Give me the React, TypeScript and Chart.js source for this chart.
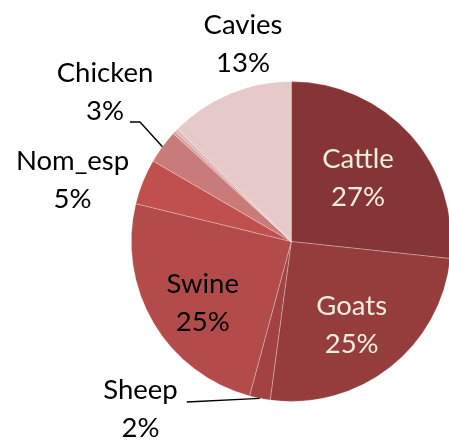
import React, { useEffect, useRef } from "react";
import { Chart, registerables } from "chart.js";

Chart.register(...registerables);

const categories = ["Cattle", "Goats", "Sheep", "Swine", "Nom_esp", "Chicken", "Other_a", "Other_b", "Cavies"];
const shares = [26.7, 25.4, 2.1, 24.6, 4.6, 3.4, 0.3, 0.3, 12.6];
const percentLabels = ["27%", "25%", "2%", "25%", "5%", "3%", "", "", "13%"];
const sliceColors = ["#853535", "#953d3d", "#a24242", "#b24b4a", "#c0504d", "#c97b7a", "#d9a09f", "#e0b4b4", "#e6c9c9"];

type LabelCfg =
  | { kind: "inside"; factor: number; turn: number; color: string }
  | { kind: "outside"; dx: number; dy: number; leader: number[][] }
  | { kind: "none" };

const labelLayout: LabelCfg[] = [
  { kind: "inside", factor: 0.58, turn: -2, color: "#f2eedf" },
  { kind: "inside", factor: 0.64, turn: 2, color: "#f2eedf" },
  { kind: "outside", dx: -150.75, dy: 166.5, leader: [[-104.5, 160.5]] },
  { kind: "inside", factor: 0.67, turn: -3.7, color: "#000000" },
  { kind: "outside", dx: -218.75, dy: -62.5, leader: [] },
  { kind: "outside", dx: -186.25, dy: -150.5, leader: [[-151.25, -119.5], [-161.25, -119.5]] },
  { kind: "none" },
  { kind: "none" },
  { kind: "outside", dx: -48.25, dy: -198.5, leader: [] },
];

const FONT = "27.5px Lato";
const LINE_GAP = 38.5;

const labelPlugin = {
  id: "sliceLabels",
  afterDatasetsDraw(chart: any) {
    const ctx = chart.ctx;
    const meta = chart.getDatasetMeta(0);
    ctx.save();
    ctx.font = FONT;
    ctx.textAlign = "center";
    ctx.textBaseline = "alphabetic";
    meta.data.forEach((arc: any, i: number) => {
      const cfg = labelLayout[i];
      if (cfg.kind === "none") return;
      const { x, y, startAngle, endAngle, outerRadius } = arc.getProps(
        ["x", "y", "startAngle", "endAngle", "outerRadius"],
        true
      );
      const mid = (startAngle + endAngle) / 2;
      let cx: number, cy: number;
      let color = "#000000";
      if (cfg.kind === "inside") {
        const a = mid + (cfg.turn * Math.PI) / 180;
        cx = x + Math.cos(a) * outerRadius * cfg.factor;
        cy = y + Math.sin(a) * outerRadius * cfg.factor;
        color = cfg.color;
      } else {
        cx = x + cfg.dx;
        cy = y + cfg.dy;
        if (cfg.leader.length) {
          ctx.beginPath();
          ctx.strokeStyle = "#000000";
          ctx.lineWidth = 1.4;
          ctx.moveTo(x + Math.cos(mid) * outerRadius, y + Math.sin(mid) * outerRadius);
          cfg.leader.forEach((p) => ctx.lineTo(x + p[0], y + p[1]));
          ctx.stroke();
        }
      }
      ctx.fillStyle = color;
      ctx.fillText(categories[i], cx, cy - LINE_GAP / 2 + 10);
      ctx.fillText(percentLabels[i], cx, cy + LINE_GAP / 2 + 10);
    });
    ctx.restore();
  },
};

export default function App() {
  const ref = useRef<HTMLCanvasElement | null>(null);
  useEffect(() => {
    document.body.style.margin = "0";
    const canvas = ref.current!;
    const chart = new Chart(canvas, {
      type: "pie",
      data: {
        labels: categories,
        datasets: [
          {
            data: shares,
            backgroundColor: sliceColors,
            borderColor: "rgba(255,255,255,0.45)",
            borderWidth: 0.6,
          },
        ],
      },
      options: {
        responsive: false,
        animation: false,
        devicePixelRatio: 1,
        layout: { padding: { left: 131, right: 8.5, top: 81, bottom: 41 } },
        plugins: { legend: { display: false }, tooltip: { enabled: false } },
      },
      plugins: [labelPlugin],
    });
    return () => chart.destroy();
  }, []);
  return (
    <div style={{ position: "absolute", left: 0, top: 0, width: 449, height: 443, overflow: "hidden", background: "#fff" }}>
      <canvas ref={ref} width={460} height={443} style={{ display: "block" }} />
    </div>
  );
}
